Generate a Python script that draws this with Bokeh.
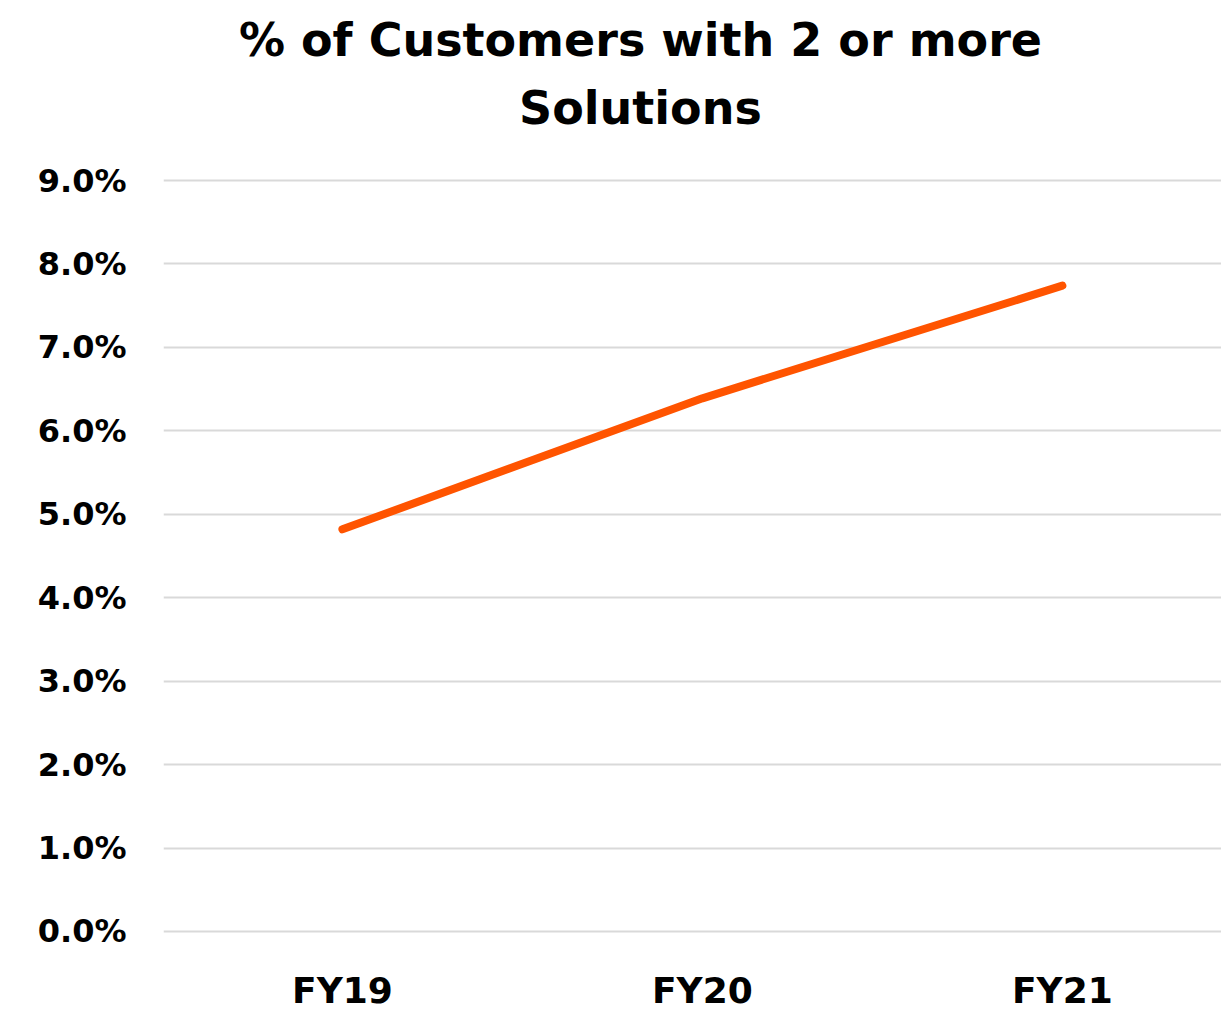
from bokeh.plotting import figure
from bokeh.models import Range1d, FixedTicker, NumeralTickFormatter
from bokeh.core.properties import value
from bokeh.embed import file_html
from bokeh.resources import INLINE

categories = ["FY19", "FY20", "FY21"]
share_pct = [4.82, 6.39, 7.74]
y_ticks = [0, 1, 2, 3, 4, 5, 6, 7, 8, 9]
title_lines = ["% of Customers with 2 or more", "Solutions"]

FONT = "DejaVu Sans"
x_pos = list(range(len(categories)))
y_vals = [v / 100 for v in share_pct]

p = figure(width=1221, height=1011, output_backend="svg", toolbar_location=None,
           x_range=Range1d(-0.497, 2.442), y_range=Range1d(-0.00959, 0.11158),
           min_border_left=163, min_border_right=0, min_border_bottom=0, min_border_top=0)
p.outline_line_color = None
p.xaxis.visible = False

# title (two lines) drawn as text in the plot area
p.text(x=[0.828, 0.828], y=[0.1068, 0.09875], text=title_lines,
       text_font=value(FONT), text_font_style="bold", text_font_size="46px",
       text_color="#000000", text_align="center", text_baseline="middle")

# category labels
p.text(x=x_pos, y=[-0.00707] * len(categories), text=categories,
       text_font=value(FONT), text_font_style="bold", text_font_size="36px",
       text_color="#000000", text_align="center", text_baseline="middle")

p.line(x_pos, y_vals, line_color="#FF5400", line_width=8, line_cap="round", line_join="round")

p.yaxis.ticker = FixedTicker(ticks=[t / 100 for t in y_ticks])
p.yaxis.formatter = NumeralTickFormatter(format="0.0%")
p.yaxis.axis_line_color = None
p.yaxis.major_tick_line_color = None
p.yaxis.minor_tick_line_color = None
p.yaxis.major_label_text_font = FONT
p.yaxis.major_label_text_font_style = "bold"
p.yaxis.major_label_text_color = "#000000"
p.yaxis.major_label_text_font_size = "32px"
p.yaxis.major_label_standoff = 31

p.xgrid.grid_line_color = None
p.ygrid.ticker = FixedTicker(ticks=[t / 100 for t in y_ticks])
p.ygrid.grid_line_color = "#D9D9D9"
p.ygrid.grid_line_width = 2

open("out.html", "w").write(file_html(p, INLINE))
